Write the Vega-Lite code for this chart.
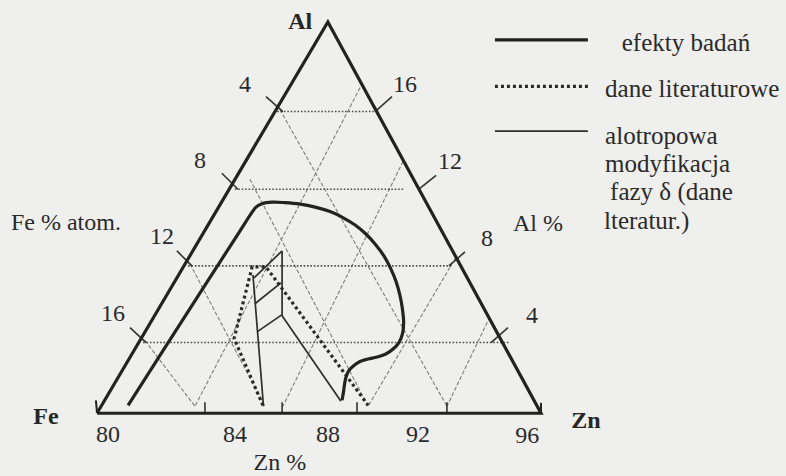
{
  "$schema": "https://vega.github.io/schema/vega-lite/v6.json",
  "width": 786,
  "height": 476,
  "autosize": {"type": "fit", "contains": "padding"},
  "padding": 0,
  "background": "#efefed",
  "config": {"view": {"stroke": null}},
  "datasets": {
    "lines": [
      {"k": "g", "s": "a", "o": 1, "x": 86.59, "y": 16.053},
      {"k": "g", "s": "a", "o": 2, "x": 92.61, "y": 0.368},
      {"k": "g", "s": "b", "o": 1, "x": 85.51, "y": 12.368},
      {"k": "g", "s": "b", "o": 2, "x": 89.77, "y": 0.368},
      {"k": "g", "s": "c", "o": 1, "x": 83.35, "y": 7.895},
      {"k": "g", "s": "c", "o": 2, "x": 86.05, "y": 0.368},
      {"k": "g", "s": "d", "o": 1, "x": 81.73, "y": 3.842},
      {"k": "g", "s": "d", "o": 2, "x": 83.53, "y": 0.368},
      {"k": "g", "s": "L1", "o": 1, "x": 89.48, "y": 17.211},
      {"k": "g", "s": "L1", "o": 2, "x": 83.53, "y": 0.368},
      {"k": "g", "s": "L2", "o": 1, "x": 91.03, "y": 13.316},
      {"k": "g", "s": "L2", "o": 2, "x": 86.70, "y": 0.368},
      {"k": "g", "s": "L3", "o": 1, "x": 92.94, "y": 8.263},
      {"k": "g", "s": "L3", "o": 2, "x": 89.77, "y": 0.368},
      {"k": "g", "s": "L4", "o": 1, "x": 94.16, "y": 5.105},
      {"k": "g", "s": "L4", "o": 2, "x": 92.61, "y": 0.368},

      {"k": "h", "s": "h16", "o": 1, "x": 86.49, "y": 15.947},
      {"k": "h", "s": "h16", "o": 2, "x": 90.02, "y": 15.947},
      {"k": "h", "s": "h12", "o": 1, "x": 84.97, "y": 11.842},
      {"k": "h", "s": "h12", "o": 2, "x": 91.03, "y": 11.842},
      {"k": "h", "s": "h8", "o": 1, "x": 83.28, "y": 7.789},
      {"k": "h", "s": "h8", "o": 2, "x": 92.79, "y": 7.789},
      {"k": "h", "s": "h4", "o": 1, "x": 81.66, "y": 3.737},
      {"k": "h", "s": "h4", "o": 2, "x": 94.88, "y": 3.737},

      {"k": "t", "s": "fe4", "o": 1, "x": 86.09, "y": 16.737},
      {"k": "t", "s": "fe4", "o": 2, "x": 86.70, "y": 15.947},
      {"k": "t", "s": "fe8", "o": 1, "x": 84.50, "y": 12.684},
      {"k": "t", "s": "fe8", "o": 2, "x": 85.08, "y": 11.842},
      {"k": "t", "s": "fe12", "o": 1, "x": 82.88, "y": 8.579},
      {"k": "t", "s": "fe12", "o": 2, "x": 83.42, "y": 7.789},
      {"k": "t", "s": "fe16", "o": 1, "x": 81.19, "y": 4.526},
      {"k": "t", "s": "fe16", "o": 2, "x": 81.77, "y": 3.737},
      {"k": "t", "s": "al16", "o": 1, "x": 90.02, "y": 15.947},
      {"k": "t", "s": "al16", "o": 2, "x": 90.63, "y": 16.737},
      {"k": "t", "s": "al12", "o": 1, "x": 91.60, "y": 11.842},
      {"k": "t", "s": "al12", "o": 2, "x": 92.22, "y": 12.579},
      {"k": "t", "s": "al8", "o": 1, "x": 92.68, "y": 7.789},
      {"k": "t", "s": "al8", "o": 2, "x": 93.26, "y": 8.526},
      {"k": "t", "s": "al4", "o": 1, "x": 94.20, "y": 3.737},
      {"k": "t", "s": "al4", "o": 2, "x": 94.81, "y": 4.526},
      {"k": "t", "s": "zn1", "o": 1, "x": 83.89, "y": 0.579},
      {"k": "t", "s": "zn1", "o": 2, "x": 83.89, "y": 0},
      {"k": "t", "s": "zn2", "o": 1, "x": 86.67, "y": 0.579},
      {"k": "t", "s": "zn2", "o": 2, "x": 86.67, "y": 0},
      {"k": "t", "s": "zn3", "o": 1, "x": 89.37, "y": 0.579},
      {"k": "t", "s": "zn3", "o": 2, "x": 89.37, "y": 0},
      {"k": "t", "s": "zn4", "o": 1, "x": 92.61, "y": 0.579},
      {"k": "t", "s": "zn4", "o": 2, "x": 92.61, "y": 0},

      {"k": "allo", "s": "A", "o": 1, "x": 85.62, "y": 7.316},
      {"k": "allo", "s": "A", "o": 2, "x": 86.00, "y": 0.368},
      {"k": "allo", "s": "top", "o": 1, "x": 85.66, "y": 7.158},
      {"k": "allo", "s": "top", "o": 2, "x": 86.67, "y": 8.579},
      {"k": "allo", "s": "mid", "o": 1, "x": 85.69, "y": 5.789},
      {"k": "allo", "s": "mid", "o": 2, "x": 86.63, "y": 6.895},
      {"k": "allo", "s": "bot", "o": 1, "x": 85.78, "y": 4.316},
      {"k": "allo", "s": "bot", "o": 2, "x": 86.67, "y": 5.211},
      {"k": "allo", "s": "v", "o": 1, "x": 86.67, "y": 8.579},
      {"k": "allo", "s": "v", "o": 2, "x": 86.67, "y": 5.158},
      {"k": "allo", "s": "v", "o": 3, "x": 88.79, "y": 0.632},
      {"k": "allo", "s": "key", "o": 1, "x": 94.34, "y": 14.911},
      {"k": "allo", "s": "key", "o": 2, "x": 97.69, "y": 14.911},

      {"k": "lit", "s": "delta", "o": 1, "x": 85.98, "y": 0.421},
      {"k": "lit", "s": "delta", "o": 2, "x": 84.94, "y": 3.947},
      {"k": "lit", "s": "delta", "o": 3, "x": 85.59, "y": 7.737},
      {"k": "lit", "s": "delta", "o": 4, "x": 86.09, "y": 7.737},
      {"k": "lit", "s": "delta", "o": 5, "x": 89.77, "y": 0.421},
      {"k": "lit", "s": "key", "o": 1, "x": 94.34, "y": 17.279},
      {"k": "lit", "s": "key", "o": 2, "x": 97.69, "y": 17.279},

      {"k": "res", "s": "phase", "o": 1, "x": 81.12, "y": 0.421},
      {"k": "res", "s": "phase", "o": 2, "x": 83.35, "y": 5.526},
      {"k": "res", "s": "phase", "o": 3, "x": 85.15, "y": 9.632},
      {"k": "res", "s": "phase", "o": 4, "x": 85.59, "y": 10.632},
      {"k": "res", "s": "phase", "o": 5, "x": 85.73, "y": 10.895},
      {"k": "res", "s": "phase", "o": 6, "x": 85.95, "y": 11.079},
      {"k": "res", "s": "phase", "o": 7, "x": 86.31, "y": 11.158},
      {"k": "res", "s": "phase", "o": 8, "x": 86.77, "y": 11.132},
      {"k": "res", "s": "phase", "o": 9, "x": 87.32, "y": 11.053},
      {"k": "res", "s": "phase", "o": 10, "x": 87.86, "y": 10.895},
      {"k": "res", "s": "phase", "o": 11, "x": 88.40, "y": 10.658},
      {"k": "res", "s": "phase", "o": 12, "x": 88.86, "y": 10.342},
      {"k": "res", "s": "phase", "o": 13, "x": 89.30, "y": 9.947},
      {"k": "res", "s": "phase", "o": 14, "x": 89.69, "y": 9.474},
      {"k": "res", "s": "phase", "o": 15, "x": 90.05, "y": 8.895},
      {"k": "res", "s": "phase", "o": 16, "x": 90.34, "y": 8.316},
      {"k": "res", "s": "phase", "o": 17, "x": 90.59, "y": 7.632},
      {"k": "res", "s": "phase", "o": 18, "x": 90.78, "y": 6.947},
      {"k": "res", "s": "phase", "o": 19, "x": 90.92, "y": 6.211},
      {"k": "res", "s": "phase", "o": 20, "x": 91.01, "y": 5.474},
      {"k": "res", "s": "phase", "o": 21, "x": 91.05, "y": 4.789},
      {"k": "res", "s": "phase", "o": 22, "x": 91.01, "y": 4.211},
      {"k": "res", "s": "phase", "o": 23, "x": 90.88, "y": 3.737},
      {"k": "res", "s": "phase", "o": 24, "x": 90.67, "y": 3.395},
      {"k": "res", "s": "phase", "o": 25, "x": 90.41, "y": 3.132},
      {"k": "res", "s": "phase", "o": 26, "x": 90.09, "y": 2.974},
      {"k": "res", "s": "phase", "o": 27, "x": 89.77, "y": 2.868},
      {"k": "res", "s": "phase", "o": 28, "x": 89.48, "y": 2.737},
      {"k": "res", "s": "phase", "o": 29, "x": 89.26, "y": 2.526},
      {"k": "res", "s": "phase", "o": 30, "x": 89.08, "y": 2.263},
      {"k": "res", "s": "phase", "o": 31, "x": 88.97, "y": 1.895},
      {"k": "res", "s": "phase", "o": 32, "x": 88.92, "y": 1.526},
      {"k": "res", "s": "phase", "o": 33, "x": 88.88, "y": 1.105},
      {"k": "res", "s": "phase", "o": 34, "x": 88.83, "y": 0.684},
      {"k": "res", "s": "key", "o": 1, "x": 94.34, "y": 19.737},
      {"k": "res", "s": "key", "o": 2, "x": 97.69, "y": 19.737},

      {"k": "edge", "s": "tri", "o": 1, "x": 80, "y": 0},
      {"k": "edge", "s": "tri", "o": 2, "x": 88.32, "y": 20.684},
      {"k": "edge", "s": "tri", "o": 3, "x": 96, "y": 0},
      {"k": "edge", "s": "tri", "o": 4, "x": 80, "y": 0},
      {"k": "arrow", "s": "fe", "o": 1, "x": 79.96, "y": 0.684},
      {"k": "arrow", "s": "fe", "o": 2, "x": 80.0, "y": 0.05},
      {"k": "arrow", "s": "zn", "o": 1, "x": 96.0, "y": 0.55},
      {"k": "arrow", "s": "zn", "o": 2, "x": 96.0, "y": 0.0}
    ],
    "labels": [
      {"g": "corner", "text": "Al", "x": 87.32, "y": 20.684},
      {"g": "corner", "text": "Fe", "x": 78.16, "y": -0.211},
      {"g": "corner", "text": "Zn", "x": 97.62, "y": -0.421},
      {"g": "num", "text": "4", "x": 85.33, "y": 17.368},
      {"g": "num", "text": "16", "x": 91.10, "y": 17.368},
      {"g": "num", "text": "8", "x": 83.71, "y": 13.316},
      {"g": "num", "text": "12", "x": 92.72, "y": 13.263},
      {"g": "num", "text": "12", "x": 82.34, "y": 9.316},
      {"g": "num", "text": "8", "x": 94.05, "y": 9.211},
      {"g": "num", "text": "16", "x": 80.58, "y": 5.263},
      {"g": "num", "text": "4", "x": 95.68, "y": 5.158},
      {"g": "num", "text": "Fe % atom.", "x": 78.88, "y": 10.053},
      {"g": "num", "text": "Al %", "x": 95.89, "y": 10.0},
      {"g": "num", "text": "80", "x": 80.40, "y": -1.158},
      {"g": "num", "text": "84", "x": 84.97, "y": -1.158},
      {"g": "num", "text": "88", "x": 88.32, "y": -1.158},
      {"g": "num", "text": "92", "x": 91.57, "y": -1.158},
      {"g": "num", "text": "96", "x": 95.50, "y": -1.184},
      {"g": "num", "text": "Zn %", "x": 86.59, "y": -2.632},
      {"g": "key", "text": "efekty badań", "x": 98.91, "y": 19.158},
      {"g": "key", "text": "dane literaturowe", "x": 98.31, "y": 16.737},
      {"g": "key", "text": "alotropowa", "x": 98.31, "y": 14.211},
      {"g": "key", "text": "modyfikacja", "x": 98.31, "y": 12.737},
      {"g": "key", "text": "fazy δ (dane", "x": 98.49, "y": 11.263},
      {"g": "key", "text": "lteratur.)", "x": 98.27, "y": 9.737}
    ]
  },
  "encoding": {
    "x": {"field": "x", "type": "quantitative", "axis": null,
          "scale": {"domain": [76.5045, 104.8288], "nice": false, "zero": false}},
    "y": {"field": "y", "type": "quantitative", "axis": null,
          "scale": {"domain": [-3.2105, 21.8421], "nice": false, "zero": false}}
  },
  "layer": [
    {
      "data": {"name": "lines"},
      "transform": [{"filter": "datum.k === 'g'"}],
      "mark": {"type": "line", "color": "#7d7d7d", "strokeWidth": 1.1, "strokeDash": [4, 2]},
      "encoding": {"detail": {"field": "s"}, "order": {"field": "o"}}
    },
    {
      "data": {"name": "lines"},
      "transform": [{"filter": "datum.k === 'h'"}],
      "mark": {"type": "line", "color": "#4d4d4d", "strokeWidth": 1.6, "strokeDash": [1.6, 1.8]},
      "encoding": {"detail": {"field": "s"}, "order": {"field": "o"}}
    },
    {
      "data": {"name": "lines"},
      "transform": [{"filter": "datum.k === 't'"}],
      "mark": {"type": "line", "color": "#333333", "strokeWidth": 1.6},
      "encoding": {"detail": {"field": "s"}, "order": {"field": "o"}}
    },
    {
      "data": {"name": "lines"},
      "transform": [{"filter": "datum.k === 'allo'"}],
      "mark": {"type": "line", "color": "#2e2e2e", "strokeWidth": 1.7},
      "encoding": {"detail": {"field": "s"}, "order": {"field": "o"}}
    },
    {
      "data": {"name": "lines"},
      "transform": [{"filter": "datum.k === 'lit'"}],
      "mark": {"type": "line", "color": "#2a2a2a", "strokeWidth": 3.2, "strokeDash": [3, 3]},
      "encoding": {"detail": {"field": "s"}, "order": {"field": "o"}}
    },
    {
      "data": {"name": "lines"},
      "transform": [{"filter": "datum.k === 'res'"}],
      "mark": {"type": "line", "color": "#222222", "strokeWidth": 3.2, "interpolate": "catmull-rom"},
      "encoding": {"detail": {"field": "s"}, "order": {"field": "o"}}
    },
    {
      "data": {"name": "lines"},
      "transform": [{"filter": "datum.k === 'edge'"}],
      "mark": {"type": "line", "color": "#222222", "strokeWidth": 3.2, "strokeJoin": "miter"},
      "encoding": {"detail": {"field": "s"}, "order": {"field": "o"}}
    },
    {
      "data": {"name": "lines"},
      "transform": [{"filter": "datum.k === 'arrow'"}],
      "mark": {"type": "line", "color": "#222222", "strokeWidth": 2},
      "encoding": {"detail": {"field": "s"}, "order": {"field": "o"}}
    },
    {
      "data": {"name": "labels"},
      "transform": [{"filter": "datum.g === 'corner'"}],
      "mark": {"type": "text", "font": "Liberation Serif", "fontSize": 24, "fontWeight": "bold",
               "align": "center", "baseline": "middle", "color": "#262626"},
      "encoding": {"text": {"field": "text"}}
    },
    {
      "data": {"name": "labels"},
      "transform": [{"filter": "datum.g === 'num'"}],
      "mark": {"type": "text", "font": "Liberation Serif", "fontSize": 24,
               "align": "center", "baseline": "middle", "color": "#2a2a2a"},
      "encoding": {"text": {"field": "text"}}
    },
    {
      "data": {"name": "labels"},
      "transform": [{"filter": "datum.g === 'key'"}],
      "mark": {"type": "text", "font": "Liberation Serif", "fontSize": 25,
               "align": "left", "baseline": "alphabetic", "color": "#2a2a2a"},
      "encoding": {"text": {"field": "text"}}
    }
  ]
}
